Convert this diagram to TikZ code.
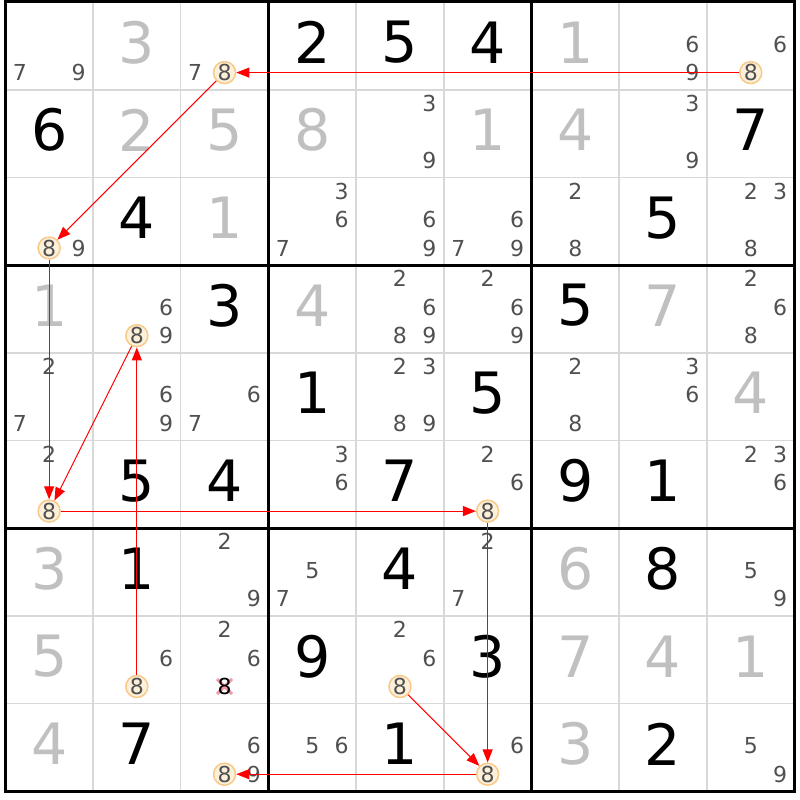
\documentclass[tikz,border=0pt]{standalone}
\usepackage{fontspec}
\setmainfont{DejaVu Sans}
\usepackage{tikz}
\usetikzlibrary{arrows.meta}

\definecolor{solvedgray}{HTML}{C0C0C0}
\definecolor{candgray}{HTML}{505050}
\definecolor{gridgray}{HTML}{D8D8D8}
\definecolor{ringfill}{HTML}{FDF0DA}
\definecolor{ringdraw}{HTML}{F8C987}
\definecolor{crosspink}{HTML}{F29AA3}

\begin{document}
\begin{tikzpicture}[
	x=87.7pt,y=-87.7pt,
	>={Triangle[length=13pt,width=10pt]},
	given/.style={font=\fontsize{57}{60}\selectfont,inner sep=0pt},
	solved/.style={given,text=solvedgray},
	cand/.style={font=\fontsize{22}{24}\selectfont,text=candgray,inner sep=0pt},
	ring/.style={cand,circle,draw=ringdraw,fill=ringfill,line width=1.5pt,minimum size=22pt},
	link/.style={->,red,line width=1pt}]
	\useasboundingbox (-0.0604,-0.0228) rectangle (9.0616,9.0992);
	% cell lines
	\foreach \i in {1,2,4,5,7,8}{
		\draw[gridgray,line width=1.6pt] (\i,0) -- (\i,9);
		\draw[gridgray,line width=1.6pt] (0,\i) -- (9,\i);
	}
	% box lines
	\foreach \i in {3,6}{
		\draw[line width=3pt] (\i,0) -- (\i,9);
		\draw[line width=3pt] (0,\i) -- (9,\i);
	}
	\draw[line width=3pt] (0,0) rectangle (9,9);
	% given digits
	\foreach \c/\r/\d in {4/1/2,5/1/5,6/1/4,1/2/6,9/2/7,2/3/4,8/3/5,3/4/3,7/4/5,
		4/5/1,6/5/5,2/6/5,3/6/4,5/6/7,7/6/9,8/6/1,2/7/1,5/7/4,8/7/8,4/8/9,6/8/3,
		2/9/7,5/9/1,8/9/2}
		\node[given] (g\c\r) at (\c-0.5,\r-0.54) {\d};
	% solved digits
	\foreach \c/\r/\d in {2/1/3,7/1/1,2/2/2,3/2/5,4/2/8,6/2/1,7/2/4,3/3/1,1/4/1,
		4/4/4,8/4/7,9/5/4,1/7/3,7/7/6,1/8/5,7/8/7,8/8/4,9/8/1,1/9/4,7/9/3}
		\node[solved] (s\c\r) at (\c-0.5,\r-0.54) {\d};
	% candidates
	\foreach \c/\r/\l in {1/1/{7,9},3/1/{7},8/1/{6,9},9/1/{6},5/2/{3,9},8/2/{3,9},
		1/3/{9},4/3/{3,6,7},5/3/{6,9},6/3/{6,7,9},7/3/{2,8},9/3/{2,3,8},
		2/4/{6,9},5/4/{2,6,8,9},6/4/{2,6,9},9/4/{2,6,8},
		1/5/{2,7},2/5/{6,9},3/5/{6,7},5/5/{2,3,8,9},7/5/{2,8},8/5/{3,6},
		1/6/{2},4/6/{3,6},6/6/{2,6},9/6/{2,3,6},
		3/7/{2,9},4/7/{5,7},6/7/{2,7},9/7/{5,9},
		2/8/{6},3/8/{2,6},5/8/{2,6},
		3/9/{6,9},4/9/{5,6},6/9/{6},9/9/{5,9}}
		\foreach \d in \l {
			\pgfmathsetmacro{\cx}{\c-1+0.165+mod(\d-1,3)*0.335}
			\pgfmathsetmacro{\cy}{\r-1+0.155+floor((\d-1)/3)*0.325}
			\node[cand] (c\c\r\d) at (\cx,\cy) {\d};
		}
	% ringed eights
	\foreach \c/\r in {3/1,9/1,1/3,2/4,1/6,6/6,2/8,5/8,3/9,6/9}
		\node[ring] (r\r c\c) at (\c-0.5,\r-0.195) {8};
	% crossed out eight
	\coordinate (x83) at (2.5,7.805);
	\draw[crosspink,line width=3pt] ([shift={(-7.5pt,-7.5pt)}]x83) -- ([shift={(7.5pt,7.5pt)}]x83);
	\draw[crosspink,line width=3pt] ([shift={(-7.5pt,7.5pt)}]x83) -- ([shift={(7.5pt,-7.5pt)}]x83);
	\node[cand,text=black] (r8c3) at (x83) {8};
	% chain
	\draw[link] (r1c9) -- (r1c3);
	\draw[link] (r1c3) -- (r3c1);
	\draw[link] (r3c1) -- (r6c1);
	\draw[link] (r4c2) -- (r6c1);
	\draw[link] (r8c2) -- (r4c2);
	\draw[link] (r6c1) -- (r6c6);
	\draw[link] (r6c6) -- (r9c6);
	\draw[link] (r8c5) -- (r9c6);
	\draw[link] (r9c6) -- (r9c3);
\end{tikzpicture}
\end{document}
